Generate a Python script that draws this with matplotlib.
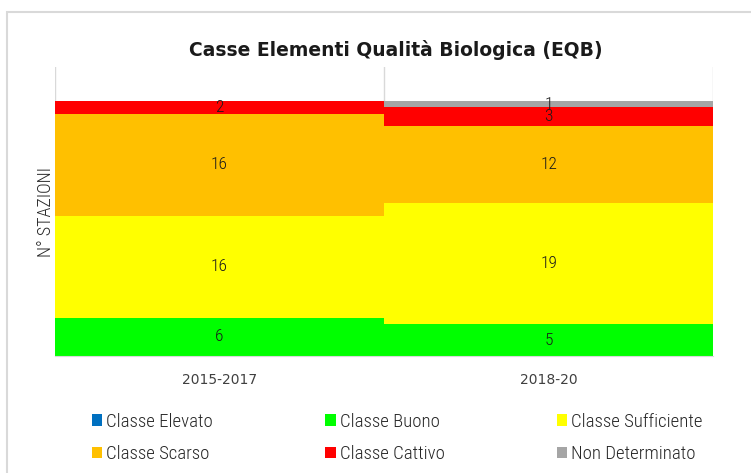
import matplotlib
matplotlib.use("Agg")
import matplotlib.pyplot as plt
from matplotlib.patches import Patch, Rectangle
from matplotlib import font_manager

categories = ["2015-2017", "2018-20"]
series_names = ["Classe Elevato", "Classe Buono", "Classe Sufficiente",
                "Classe Scarso", "Classe Cattivo", "Non Determinato"]
elevato = [0, 0]
buono = [6, 5]
sufficiente = [16, 19]
scarso = [16, 12]
cattivo = [2, 3]
non_determinato = [0, 1]
series_values = [elevato, buono, sufficiente, scarso, cattivo, non_determinato]
colors = ["#0070C0", "#00FF00", "#FFFF00", "#FFC000", "#FF0000", "#A5A5A5"]

names = {f.name for f in font_manager.fontManager.ttflist}
narrow = None
for cand in ["Liberation Sans Narrow", "Roboto Condensed", "DejaVu Sans Condensed", "Open Sans Condensed"]:
    if cand in names:
        narrow = cand
        break
nfam = [narrow, "DejaVu Sans"] if narrow else ["DejaVu Sans"]

fig = plt.figure(figsize=(7.51, 4.73), dpi=100)
W, H = 751, 473
# outer border
fig.patches.append(Rectangle((7 / W, -0.1), 1.0, (H - 12) / H + 0.1,
                             transform=fig.transFigure, fill=False,
                             edgecolor="#D9D9D9", linewidth=1.5))

ax = fig.add_axes([55 / W, 1 - 356 / H, (713 - 55) / W, (356 - 67) / H])
x = list(range(len(categories)))
bottom = [0] * len(categories)
containers = []
for name, vals, col in zip(series_names, series_values, colors):
    c = ax.bar(x, vals, width=1.0, bottom=bottom, color=col, label=name,
               linewidth=0, zorder=2)
    containers.append((c, vals))
    bottom = [b + v for b, v in zip(bottom, vals)]

for c, vals in containers:
    ax.bar_label(c, labels=[str(v) if v > 0 else "" for v in vals],
                 label_type="center", fontsize=12.5, color="#1a1a1a",
                 family=nfam, fontweight="light", zorder=3)

ax.set_xlim(-0.5, len(categories) - 0.5)
ax.set_ylim(0, 45.3)
for xv in [-0.5 + i for i in range(len(categories) + 1)]:
    ax.axvline(xv, color="#D9D9D9", linewidth=1, zorder=1)
for s in ["top", "right", "left"]:
    ax.spines[s].set_visible(False)
ax.spines["bottom"].set_color("#D9D9D9")
ax.spines["bottom"].set_zorder(3)
ax.set_yticks([])
ax.set_xticks(x)
ax.set_xticklabels(categories, fontsize=10, color="#404040")
ax.tick_params(axis="x", length=0, pad=12)
ax.set_ylabel("N° STAZIONI", fontsize=13, color="#262626", family=nfam,
              fontweight="light", labelpad=0)

fig.text(396 / W, 1 - 50 / H, "Casse Elementi Qualità Biologica (EQB)",
         ha="center", va="center", fontsize=13.5, fontweight="bold", color="#1a1a1a")

order = [0, 3, 1, 4, 2, 5]
handles = [Patch(facecolor=colors[i], edgecolor="none") for i in order]
labels = [series_names[i] for i in order]
leg = fig.legend(handles, labels, ncol=3, loc="upper left",
                 bbox_to_anchor=(84 / W, 1 - 405 / H), frameon=False,
                 prop={"family": nfam, "size": 13.5, "weight": "light"},
                 handlelength=0.55, handleheight=0.55, handletextpad=0.22,
                 columnspacing=6.0, labelspacing=0.79, borderaxespad=0)
for t in leg.get_texts():
    t.set_color("#262626")

fig.savefig("out.png", dpi=100)
